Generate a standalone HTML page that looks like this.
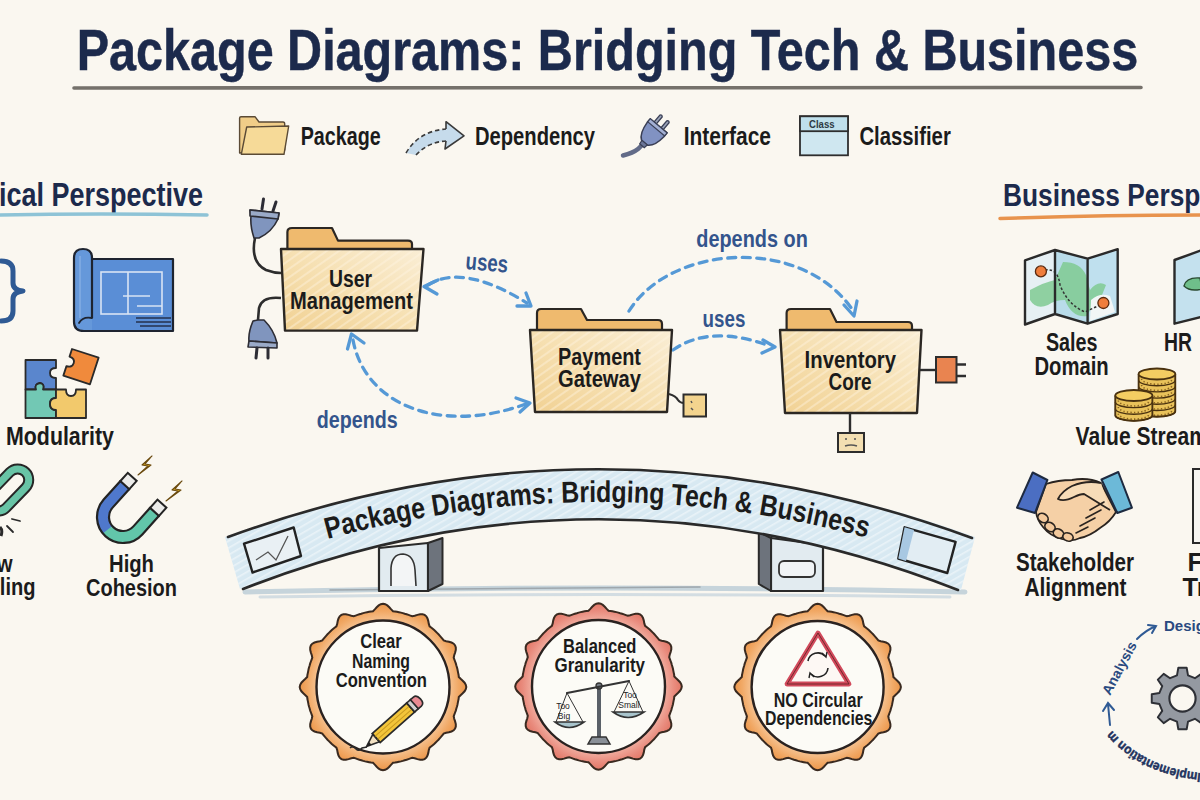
<!DOCTYPE html>
<html><head><meta charset="utf-8"><title>Package Diagrams: Bridging Tech &amp; Business</title>
<style>
html,body{margin:0;padding:0;background:#faf7f0;}
body{width:1200px;height:800px;overflow:hidden;position:relative;font-family:"Liberation Sans",sans-serif;}
svg{position:absolute;left:0;top:0;display:block;}
text{font-family:"Liberation Sans",sans-serif;}
.t{font-weight:bold;fill:#1b1b1b;}
.nav{font-weight:bold;fill:#1c2a4c;}
.blu{font-weight:bold;fill:#33548c;}
.ol{stroke:#2b2723;stroke-linejoin:round;stroke-linecap:round;}
</style></head>
<body>
<svg width="1200" height="800" viewBox="0 0 1200 800">
<defs>
  <linearGradient id="gFold" x1="0" y1="1" x2="1" y2="0">
    <stop offset="0" stop-color="#f1d193"/><stop offset="0.5" stop-color="#f6e0b2"/><stop offset="1" stop-color="#faeed6"/>
  </linearGradient>
  <pattern id="hatch" width="7" height="7" patternUnits="userSpaceOnUse" patternTransform="rotate(-35)">
    <rect width="7" height="2" fill="#fff6e4" opacity="0.4"/>
  </pattern>
  <pattern id="hatchB" width="6" height="6" patternUnits="userSpaceOnUse" patternTransform="rotate(-30)">
    <rect width="6" height="1.6" fill="#ffffff" opacity="0.45"/>
  </pattern>
  <path id="scal" d="M0.0 -83.3 L2.2 -82.8 L4.3 -81.6 L6.3 -79.7 L8.2 -77.6 L10.0 -75.8 L12.0 -75.6 L13.9 -75.2 L15.9 -74.8 L17.9 -74.4 L19.8 -73.9 L21.7 -73.3 L23.6 -72.8 L25.5 -72.1 L27.4 -71.4 L29.3 -70.7 L31.7 -71.2 L34.4 -72.1 L37.1 -72.8 L39.5 -72.8 L41.6 -72.1 L43.3 -70.7 L44.5 -68.5 L45.3 -65.9 L45.8 -63.1 L46.6 -60.7 L48.1 -59.5 L49.7 -58.2 L51.2 -56.9 L52.7 -55.5 L54.1 -54.1 L55.5 -52.7 L56.9 -51.2 L58.2 -49.7 L59.5 -48.1 L60.7 -46.6 L63.1 -45.8 L65.9 -45.3 L68.5 -44.5 L70.7 -43.3 L72.1 -41.6 L72.8 -39.5 L72.8 -37.1 L72.1 -34.4 L71.2 -31.7 L70.7 -29.3 L71.4 -27.4 L72.1 -25.5 L72.8 -23.6 L73.3 -21.7 L73.9 -19.8 L74.4 -17.9 L74.8 -15.9 L75.2 -13.9 L75.6 -12.0 L75.8 -10.0 L77.6 -8.2 L79.7 -6.3 L81.6 -4.3 L82.8 -2.2 L83.3 -0.0 L82.8 2.2 L81.6 4.3 L79.7 6.3 L77.6 8.2 L75.8 10.0 L75.6 12.0 L75.2 13.9 L74.8 15.9 L74.4 17.9 L73.9 19.8 L73.3 21.7 L72.8 23.6 L72.1 25.5 L71.4 27.4 L70.7 29.3 L71.2 31.7 L72.1 34.4 L72.8 37.1 L72.8 39.5 L72.1 41.6 L70.7 43.3 L68.5 44.5 L65.9 45.3 L63.1 45.8 L60.7 46.6 L59.5 48.1 L58.2 49.7 L56.9 51.2 L55.5 52.7 L54.1 54.1 L52.7 55.5 L51.2 56.9 L49.7 58.2 L48.1 59.5 L46.6 60.7 L45.8 63.1 L45.3 65.9 L44.5 68.5 L43.3 70.7 L41.6 72.1 L39.5 72.8 L37.1 72.8 L34.4 72.1 L31.7 71.2 L29.3 70.7 L27.4 71.4 L25.5 72.1 L23.6 72.8 L21.7 73.3 L19.8 73.9 L17.9 74.4 L15.9 74.8 L13.9 75.2 L12.0 75.6 L10.0 75.8 L8.2 77.6 L6.3 79.7 L4.3 81.6 L2.2 82.8 L0.0 83.3 L-2.2 82.8 L-4.3 81.6 L-6.3 79.7 L-8.2 77.6 L-10.0 75.8 L-12.0 75.6 L-13.9 75.2 L-15.9 74.8 L-17.9 74.4 L-19.8 73.9 L-21.7 73.3 L-23.6 72.8 L-25.5 72.1 L-27.4 71.4 L-29.3 70.7 L-31.7 71.2 L-34.4 72.1 L-37.1 72.8 L-39.5 72.8 L-41.6 72.1 L-43.3 70.7 L-44.5 68.5 L-45.3 65.9 L-45.8 63.1 L-46.6 60.7 L-48.1 59.5 L-49.7 58.2 L-51.2 56.9 L-52.7 55.5 L-54.1 54.1 L-55.5 52.7 L-56.9 51.2 L-58.2 49.7 L-59.5 48.1 L-60.7 46.6 L-63.1 45.8 L-65.9 45.3 L-68.5 44.5 L-70.7 43.3 L-72.1 41.7 L-72.8 39.5 L-72.8 37.1 L-72.1 34.4 L-71.2 31.7 L-70.7 29.3 L-71.4 27.4 L-72.1 25.5 L-72.8 23.6 L-73.3 21.7 L-73.9 19.8 L-74.4 17.9 L-74.8 15.9 L-75.2 13.9 L-75.6 12.0 L-75.8 10.0 L-77.6 8.2 L-79.7 6.3 L-81.6 4.3 L-82.8 2.2 L-83.3 0.0 L-82.8 -2.2 L-81.6 -4.3 L-79.7 -6.3 L-77.6 -8.2 L-75.8 -10.0 L-75.6 -12.0 L-75.2 -13.9 L-74.8 -15.9 L-74.4 -17.9 L-73.9 -19.8 L-73.3 -21.7 L-72.8 -23.6 L-72.1 -25.5 L-71.4 -27.4 L-70.7 -29.3 L-71.2 -31.7 L-72.1 -34.4 L-72.8 -37.1 L-72.8 -39.5 L-72.1 -41.7 L-70.7 -43.3 L-68.5 -44.5 L-65.9 -45.3 L-63.1 -45.8 L-60.7 -46.6 L-59.5 -48.1 L-58.2 -49.7 L-56.9 -51.2 L-55.5 -52.7 L-54.1 -54.1 L-52.7 -55.5 L-51.2 -56.9 L-49.7 -58.2 L-48.1 -59.5 L-46.6 -60.7 L-45.8 -63.1 L-45.3 -65.9 L-44.5 -68.5 L-43.3 -70.7 L-41.6 -72.1 L-39.5 -72.8 L-37.1 -72.8 L-34.4 -72.1 L-31.7 -71.2 L-29.3 -70.7 L-27.4 -71.4 L-25.5 -72.1 L-23.6 -72.8 L-21.7 -73.3 L-19.8 -73.9 L-17.9 -74.4 L-15.9 -74.8 L-13.9 -75.2 L-12.0 -75.6 L-10.0 -75.8 L-8.2 -77.6 L-6.3 -79.7 L-4.3 -81.6 L-2.2 -82.8Z"/>
  <radialGradient id="gOr" gradientUnits="userSpaceOnUse" cx="0" cy="0" r="84">
    <stop offset="0.78" stop-color="#f6c494"/><stop offset="0.9" stop-color="#f1a966"/><stop offset="1" stop-color="#ec9548"/>
  </radialGradient>
  <radialGradient id="gRd" gradientUnits="userSpaceOnUse" cx="0" cy="0" r="84">
    <stop offset="0.78" stop-color="#f1b0a2"/><stop offset="0.9" stop-color="#e98c7e"/><stop offset="1" stop-color="#e27564"/>
  </radialGradient>
  <path id="bridgeArc" d="M300 547 Q600 457 900 547"/>
  <linearGradient id="gTab" x1="0" y1="0" x2="1" y2="0">
    <stop offset="0" stop-color="#eeb768"/><stop offset="1" stop-color="#f0c27e"/>
  </linearGradient>
</defs>
<rect width="1200" height="800" fill="#faf7f0"/>

<!-- TITLE -->
<text id="title" class="nav" x="76.7" y="69.5" font-size="57" stroke="#1c2a4c" stroke-width="0.5" textLength="1061.5" lengthAdjust="spacingAndGlyphs">Package Diagrams: Bridging Tech &amp; Business</text>
<path d="M74 88 Q600 86.6 1141 87.5" stroke="#69655f" stroke-width="3.6" fill="none" stroke-linecap="round" opacity="0.92"/>

<!-- LEGEND -->
<g id="legend">
  <path stroke-linejoin="round" d="M239.6 153 L239.6 118 Q239.6 116.7 241 116.7 L255 116.7 L259 122 L283 122 Q284.7 122 284.7 124 L284.7 150 Z" fill="#f0cd88" stroke="#5a4a35" stroke-width="1.4"/>
  <path stroke-linejoin="round" d="M246.7 127 L288.7 126 L284 154.3 L241.3 154.3 Z" fill="#f6da98" stroke="#5a4a35" stroke-width="1.4"/>
  <text class="t" x="300.7" y="145.3" font-size="25" textLength="80" lengthAdjust="spacingAndGlyphs">Package</text>

  <path d="M406 153 Q419 131 446 129 L446 141 Q428 142 416 155 Z" fill="#c6dbeb"/>
  <path d="M406 153 Q419 131 446 129 M416 155 Q428 142 446 141" fill="none" stroke="#3a3a3a" stroke-width="1.6" stroke-dasharray="4.5 3"/>
  <path d="M446 129 L446 121.7 L464 135.8 L445 149 L446 141" fill="#c6dbeb" stroke="#3a3a3a" stroke-width="1.6" stroke-linejoin="round"/>
  <text class="t" x="475" y="145.3" font-size="25" textLength="120" lengthAdjust="spacingAndGlyphs">Dependency</text>

  <path d="M623 155.5 Q633 153 638 149 Q641 146 643 144" stroke="#626b88" stroke-width="4.5" fill="none" stroke-linecap="round"/>
  <g transform="translate(651 135) rotate(40)">
    <path d="M-6 -12 L-6 -21 Q-4.5 -23 -3 -21 L-3 -12 M3 -12 L3 -21 Q4.5 -23 6 -21 L6 -12" fill="#9aa3b8" stroke="#3a3f55" stroke-width="1.3"/>
    <path d="M-11 -12 L11 -12 L11 -7 Q10 6 4 10 L-4 10 Q-10 6 -11 -7 Z" fill="#8192c2" stroke="#3a3f55" stroke-width="1.5" stroke-linejoin="round"/>
    <path d="M-11 -12 L11 -12 L11 -8 L-11 -8 Z" fill="#a3b0d4" stroke="#3a3f55" stroke-width="1.2"/>
    <path d="M-3.5 10 L3.5 10 L3 14 L-3 14 Z" fill="#6c7698" stroke="#3a3f55" stroke-width="1.2"/>
  </g>
  <text class="t" x="683.7" y="145.3" font-size="25" textLength="87.3" lengthAdjust="spacingAndGlyphs">Interface</text>

  <rect x="800" y="116.3" width="48" height="39" fill="#cfe7f0" stroke="#2e2e2e" stroke-width="1.8"/>
  <rect x="800" y="116.3" width="48" height="14.9" fill="#bfe0ec" stroke="#2e2e2e" stroke-width="1.8"/>
  <text x="809" y="127.7" font-size="10.5" font-weight="bold" fill="#2e3a44" textLength="25.6" lengthAdjust="spacingAndGlyphs">Class</text>
  <text class="t" x="859.4" y="145.3" font-size="25" textLength="91.4" lengthAdjust="spacingAndGlyphs">Classifier</text>
</g>

<!-- PERSPECTIVE HEADINGS -->
<text class="nav" x="-1" y="206" font-size="32.5" textLength="204" lengthAdjust="spacingAndGlyphs">ical Perspective</text>
<path d="M-2 215 Q100 213 207 215" stroke="#8ec3d6" stroke-width="3.5" fill="none" stroke-linecap="round"/>
<text class="nav" x="1003" y="206" font-size="32" textLength="272" lengthAdjust="spacingAndGlyphs">Business Perspective</text>
<path d="M1000 218.5 Q1100 215 1205 215" stroke="#e8934d" stroke-width="3.5" fill="none" stroke-linecap="round"/>

<!-- LEFT COLUMN -->
<g id="left">
  <!-- brace -->
  <path d="M1 261 Q13 261 13 271 L13 283 Q13 290 23 291 Q13 292 13 299 L13 311 Q13 321 1 321" stroke="#2f5a94" stroke-width="5" fill="none" stroke-linecap="round" stroke-linejoin="round"/>
  <!-- blueprint -->
  <rect x="86" y="259" width="87" height="72" fill="#5a8ed6" stroke="#1e2430" stroke-width="2.2" stroke-linejoin="round"/>
  <path d="M92 331 L84 331 Q74 331 74 322 L74 258 Q74 249 83 249 Q92 249 92 258 L92 318" fill="#6598da" stroke="#1e2430" stroke-width="2.2" stroke-linejoin="round"/>
  <path d="M92 318 Q83 316 79 323" fill="none" stroke="#1e2430" stroke-width="1.8" stroke-linecap="round"/>
  <path d="M80 256 L80 318" stroke="#86b0e4" stroke-width="2" opacity="0.7"/>
  <g stroke="#e6eef8" stroke-width="1.6" fill="none" opacity="0.9">
    <rect x="101" y="272" width="61" height="42"/>
    <path d="M128 272 L128 314 M123 296 L150 296 M137 306 L162 306"/>
  </g>
  <path d="M136 318 L171 318 M136 322 L171 322 M140 326 L171 326" stroke="#24324d" stroke-width="1.4"/>

  <!-- puzzle -->
  <g stroke="#2a2a2a" stroke-width="1.8" stroke-linejoin="round">
    <path d="M25.5 360 L56 360 L56 368 Q50 368 50 373 Q50 378 56 378 L56 389.5 L43 389.5 Q45 384 40 383 Q34 384 36 389.5 L25.5 389.5 Z" fill="#5a86cd"/>
    <path d="M25.5 389.5 L36 389.5 Q34 384 40 383 Q45 384 43 389.5 L56 389.5 L56 398 Q50 398 50 404 Q50 410 56 410 L56 418 L25.5 418 Z" fill="#72c8b4"/>
    <path d="M56 389.5 L66 389.5 Q66 396 71 396 Q76 396 76 389.5 L86 389.5 L86 418 L56 418 L56 410 Q50 410 50 404 Q50 398 56 398 Z" fill="#f2c96c"/>
    <path d="M0 0 L28 0 L28 28 L0 28 L0 18 Q6 18 6 13 Q6 8 0 8 Z" transform="translate(72 349) rotate(18)" fill="#f08a3c"/>
  </g>
  <text class="t" x="6" y="445.3" font-size="26" textLength="108" lengthAdjust="spacingAndGlyphs">Modularity</text>

  <!-- broken link -->
  <g transform="translate(8 490) rotate(-46)">
    <rect x="-25" y="-11" width="50" height="22" rx="11" fill="none" stroke="#262626" stroke-width="11"/>
    <rect x="-25" y="-11" width="50" height="22" rx="11" fill="none" stroke="#68c4a6" stroke-width="7"/>
  </g>
  <path d="M12 519 L20 521 M7 526 L13 532" stroke="#2a2a2a" stroke-width="1.8" stroke-linecap="round"/>
  <path d="M0 527 Q3 530 1 536" stroke="#2a2a2a" stroke-width="3" fill="none"/>
  <text class="t" x="12.5" y="572" font-size="24" text-anchor="end" textLength="40" lengthAdjust="spacingAndGlyphs">Low</text>
  <text class="t" x="35.5" y="594.5" font-size="24" text-anchor="end" textLength="87" lengthAdjust="spacingAndGlyphs">Coupling</text>

  <!-- magnet -->
  <g transform="translate(123 517) rotate(42)">
    <path d="M-26 -25 L-26 0 A26 26 0 0 0 26 0 L26 -25 L14 -25 L14 0 A14 14 0 0 1 -14 0 L-14 -25 Z" fill="#62c6aa"/>
    <path d="M-26 -25 L-26 0 A26 26 0 0 0 -4 25.7 L-2 14 A14 14 0 0 1 -14 0 L-14 -25 Z" fill="#4f78cc"/>
    <path d="M-26 -25 L-26 0 A26 26 0 0 0 26 0 L26 -25 L14 -25 L14 0 A14 14 0 0 1 -14 0 L-14 -25 Z" fill="none" stroke="#232323" stroke-width="2.2" stroke-linejoin="round"/>
    <rect x="-26" y="-36" width="12" height="11" fill="#ececea" stroke="#232323" stroke-width="2"/>
    <rect x="14" y="-36" width="12" height="11" fill="#ececea" stroke="#232323" stroke-width="2"/>
  </g>
  <path d="M152 456 L142 465 L148 466 L138 475 L151 465 L145 464 Z" fill="#e8b820" stroke="#6a4a10" stroke-width="1.1" stroke-linejoin="round"/>
  <path d="M182 481 L172 490 L178 491 L166 501 L181 490 L175 489 Z" fill="#e8b820" stroke="#6a4a10" stroke-width="1.1" stroke-linejoin="round"/>
  <text class="t" x="131.5" y="571.8" font-size="24" text-anchor="middle" textLength="45" lengthAdjust="spacingAndGlyphs">High</text>
  <text class="t" x="86" y="595.5" font-size="24" textLength="91" lengthAdjust="spacingAndGlyphs">Cohesion</text>
</g>

<!-- CENTER DIAGRAM -->
<g id="center">
  <!-- arrows -->
  <g stroke="#5599d6" stroke-width="3.3" fill="none" stroke-linecap="round" stroke-linejoin="round">
    <path d="M428 285 Q462.5 263 527 303" stroke-dasharray="8 6.5"/>
    <path d="M353 340 C365 405 440 435 526 404" stroke-dasharray="8 6.5"/>
    <path d="M629 311 C670 245 800 235 852 309" stroke-dasharray="8 6.5"/>
    <path d="M673 350 Q710 324 770 346" stroke-dasharray="8 6.5"/>
    <!-- heads -->
    <path d="M438 280 L424 286.5 L437 294"/>
    <path d="M517 306 L531 306 L526 293"/>
    <path d="M347.5 349 L351.5 334 L364 343"/>
    <path d="M520 412 L530 403 L516 398"/>
    <path d="M844 305 L854 316 L857 301"/>
    <path d="M763 340 L775 347 L762 353"/>
  </g>
  <text class="blu" x="465.5" y="270.8" font-size="24" textLength="42.5" lengthAdjust="spacingAndGlyphs" transform="rotate(5 487 265)">uses</text>
  <text class="blu" x="316.8" y="427.6" font-size="24" textLength="81" lengthAdjust="spacingAndGlyphs">depends</text>
  <text class="blu" x="696.3" y="247.3" font-size="24" textLength="111.5" lengthAdjust="spacingAndGlyphs">depends on</text>
  <text class="blu" x="702.6" y="327.4" font-size="24" textLength="42.8" lengthAdjust="spacingAndGlyphs">uses</text>

  <!-- folder: User Management -->
  <path class="ol" d="M287.4 251 L287.4 232 Q287.4 228 292 228 L332 228 L338 240.6 L408 240.6 Q412 240.6 412 244 L412 251 Z" fill="#efba6e" stroke-width="2.2"/>
  <path d="M281 249 L423.5 249 L417 330.6 L285 330.6 Z" fill="url(#gFold)"/>
  <path d="M281 249 L423.5 249 L417 330.6 L285 330.6 Z" fill="url(#hatch)"/>
  <path class="ol" d="M281 249 L423.5 249 L417 330.6 L285 330.6 Z" fill="none" stroke-width="2.4"/>
  <text class="t" x="329" y="286.7" font-size="23.8" textLength="43" lengthAdjust="spacingAndGlyphs">User</text>
  <text class="t" x="290" y="309" font-size="23.8" textLength="123" lengthAdjust="spacingAndGlyphs">Management</text>
  <!-- plugs -->
  <path d="M255 238 Q250 262 266 270 Q274 273 281 273" stroke="#2d2d2d" stroke-width="2.6" fill="none"/>
  <path d="M281 298 Q262 296 259 308 L258 320" stroke="#2d2d2d" stroke-width="2.6" fill="none"/>
  <g stroke="#2d2d35" stroke-width="1.6" stroke-linejoin="round">
    <path d="M262 209 L263.5 199 M273 211 L276 202" stroke-width="3" stroke-linecap="round"/>
    <path d="M250 210 L279 213 L278 219 Q272 232 259 238 L254 238 Q250 226 251 216 Z" fill="#8095be"/>
    <path d="M250 210 L279 213 L278 219 L250 216 Z" fill="#9aaac8"/>
    <path d="M258 320 L253 321 Q248 333 249 341 L277 343 Q274 330 264 320 Z" fill="#8095be"/>
    <path d="M249 341 L277 343 L277 348 L248 347 Z" fill="#9aaac8"/>
    <path d="M257 348 L256 358 M268 348 L268 358" stroke-width="3" stroke-linecap="round"/>
  </g>

  <!-- folder: Payment Gateway -->
  <path class="ol" d="M537 332 L537 313 Q537 309 541 309 L581 309 L587 320 L658 320 Q662 320 662 324 L662 332 Z" fill="#efba6e" stroke-width="2.2"/>
  <path d="M530 330 L672 330 L667 412 L535 412 Z" fill="url(#gFold)"/>
  <path d="M530 330 L672 330 L667 412 L535 412 Z" fill="url(#hatch)"/>
  <path class="ol" d="M530 330 L672 330 L667 412 L535 412 Z" fill="none" stroke-width="2.4"/>
  <text class="t" x="558" y="365" font-size="23.8" textLength="83" lengthAdjust="spacingAndGlyphs">Payment</text>
  <text class="t" x="558" y="387" font-size="23.8" textLength="83" lengthAdjust="spacingAndGlyphs">Gateway</text>
  <path d="M669 394 Q676 396 678 400 Q680 403 684 403" stroke="#2d2d2d" stroke-width="2.2" fill="none"/>
  <rect x="683.5" y="394.5" width="22.5" height="22" fill="#f3d48e" stroke="#2d2d2d" stroke-width="2"/>
  <path d="M691 401 L692 403 M691 408 L693 410" stroke="#555" stroke-width="1.5"/>

  <!-- folder: Inventory Core -->
  <path class="ol" d="M786.6 332 L786.6 313 Q786.6 309 791 309 L830 309 L836.5 322 L908 322 Q912 322 912 326 L912 332 Z" fill="#efba6e" stroke-width="2.2"/>
  <path d="M780 330 L921.5 330 L917 413 L785 413 Z" fill="url(#gFold)"/>
  <path d="M780 330 L921.5 330 L917 413 L785 413 Z" fill="url(#hatch)"/>
  <path class="ol" d="M780 330 L921.5 330 L917 413 L785 413 Z" fill="none" stroke-width="2.4"/>
  <text class="t" x="804.6" y="367.6" font-size="23.8" textLength="91.4" lengthAdjust="spacingAndGlyphs">Inventory</text>
  <text class="t" x="828.5" y="390" font-size="23.8" textLength="43.1" lengthAdjust="spacingAndGlyphs">Core</text>
  <path d="M920 370 L936 370" stroke="#2d2d2d" stroke-width="2.4"/>
  <rect x="936" y="357" width="20.5" height="25.5" fill="#e98450" stroke="#2d2d2d" stroke-width="2"/>
  <path d="M956 364.5 L966 364.5 M956 376 L966 376" stroke="#2d2d2d" stroke-width="2.4"/>
  <path d="M850 413 L850 433" stroke="#2d2d2d" stroke-width="2.4"/>
  <rect x="838" y="433" width="26" height="19" fill="#f3dfb2" stroke="#2d2d2d" stroke-width="2"/>
  <path d="M845 439 L847 439 M854 439 L856 439 M845 446 Q851 444 857 446" stroke="#555" stroke-width="1.5" fill="none"/>
</g>

<!-- BRIDGE -->
<g id="bridge">
  <!-- ground shadow -->
  <g stroke-linecap="round" fill="none">
    <path d="M245 592 Q600 584 965 592" stroke="#b9cbd6" stroke-width="5" opacity="0.8"/>
    <path d="M260 597 Q600 592 950 597" stroke="#c9d6de" stroke-width="3" opacity="0.8"/>
    <path d="M330 590 L700 587" stroke="#8d949a" stroke-width="1.5" opacity="0.7"/>
  </g>
  <!-- piers -->
  <path d="M379 548 L428 543 L428 591 L379 591 Z" fill="#e2ebf0" stroke="#2a2a2a" stroke-width="2.2" stroke-linejoin="round"/>
  <path d="M428 543 L442.5 538 L442.5 584 L428 591 Z" fill="#6d737c" stroke="#2a2a2a" stroke-width="2" stroke-linejoin="round"/>
  <path d="M391 586 L391 568 Q392 554 403 554 Q414 555 415 570 L416 586" fill="#f3f5f6" stroke="#333" stroke-width="1.6"/>
  <path d="M771 538 L823 545 L823 591 L771 591 Z" fill="#e2ebf0" stroke="#2a2a2a" stroke-width="2.2" stroke-linejoin="round"/>
  <path d="M758.8 532 L771 538 L771 591 L758.8 584 Z" fill="#6d737c" stroke="#2a2a2a" stroke-width="2" stroke-linejoin="round"/>
  <rect x="779" y="561" width="36" height="16" rx="5" fill="#f1f4f6" stroke="#333" stroke-width="1.8"/>
  <!-- deck -->
  <path d="M225 537 Q600 401 975 537 L961 590 Q600 449 240 589 Z" fill="#d8e9f2"/>
  <path d="M225 537 Q600 401 975 537 L961 590 Q600 449 240 589 Z" fill="url(#hatchB)"/>
  <path d="M228 537 Q600 401 972 538" stroke="#2a2a2a" stroke-width="2.6" fill="none" stroke-linecap="round"/>
  <path d="M243 589 Q600 449 958 590" stroke="#2a2a2a" stroke-width="2.6" fill="none" stroke-linecap="round"/>
  <!-- deck end boxes -->
  <path d="M244 543.7 L293.7 527.5 L301 556 L252.5 572.5 Z" fill="#e9f0f4" stroke="#222" stroke-width="2.4" stroke-linejoin="round"/>
  <path d="M256 560 L268 552 L276 560 L288 536" stroke="#555" stroke-width="1.3" fill="none"/>
  <path d="M904.6 527.3 L955.6 541.9 L947.3 573 L898.3 558.5 Z" fill="#e2edf3" stroke="#222" stroke-width="2.4" stroke-linejoin="round"/>
  <path d="M904.6 527.3 L914 530 L906 561 L898.3 558.5 Z" fill="#a8c8e2"/>
  <!-- curved text -->
  <text font-size="30" font-weight="bold" fill="#1b1b1b"><textPath href="#bridgeArc" startOffset="28.6" textLength="546" lengthAdjust="spacingAndGlyphs">Package Diagrams: Bridging Tech &amp; Business</textPath></text>
</g>

<!-- BADGES -->
<g id="badges">
  <g transform="translate(383 687)">
    <use href="#scal" fill="url(#gOr)" stroke="#3a2a20" stroke-width="2"/>
    <circle r="66.5" fill="#fcfbf6" stroke="#2a2220" stroke-width="2.4"/>
  </g>
  <g transform="translate(598.5 686.5)">
    <use href="#scal" fill="url(#gRd)" stroke="#3a2a20" stroke-width="2"/>
    <circle r="66.5" fill="#fcfbf6" stroke="#2a2220" stroke-width="2.4"/>
  </g>
  <g transform="translate(817.6 687)">
    <use href="#scal" fill="url(#gOr)" stroke="#3a2a20" stroke-width="2"/>
    <circle r="66" fill="#fcfbf6" stroke="#2a2220" stroke-width="2.4"/>
  </g>
  <!-- badge 1 text + pencil -->
  <text class="t" x="381" y="648.4" font-size="19.8" text-anchor="middle" textLength="41.6" lengthAdjust="spacingAndGlyphs">Clear</text>
  <text class="t" x="381" y="668" font-size="19.8" text-anchor="middle" textLength="58" lengthAdjust="spacingAndGlyphs">Naming</text>
  <text class="t" x="381.3" y="687" font-size="19.8" text-anchor="middle" textLength="91.3" lengthAdjust="spacingAndGlyphs">Convention</text>
  <g transform="translate(366.5 746.6) rotate(-41.5)">
    <path d="M0 0 L13 -5 L13 5 Z" fill="#f3e2c4" stroke="#2a2a2a" stroke-width="1.6" stroke-linejoin="round"/>
    <path d="M0 0 L5 -2 L5 2 Z" fill="#222"/>
    <rect x="13" y="-6" width="46" height="12" fill="#f3c53a" stroke="#2a2a2a" stroke-width="1.8"/>
    <path d="M13 -2 L59 -2 M13 2 L59 2" stroke="#c99a20" stroke-width="1"/>
    <rect x="59" y="-6" width="5" height="12" fill="#d0d0d0" stroke="#2a2a2a" stroke-width="1.6"/>
    <path d="M64 -6 L68 -6 Q72 -6 72 0 Q72 6 68 6 L64 6 Z" fill="#e98a92" stroke="#2a2a2a" stroke-width="1.6"/>
  </g>
  <path d="M350 748 Q353 745 356 749 Q359 752 362 748 L367 747" stroke="#2a2a2a" stroke-width="1.5" fill="none"/>
  <!-- badge 2 text + scale -->
  <text class="t" x="599.7" y="652.8" font-size="19.8" text-anchor="middle" textLength="73.5" lengthAdjust="spacingAndGlyphs">Balanced</text>
  <text class="t" x="599.8" y="672.2" font-size="19.8" text-anchor="middle" textLength="90.4" lengthAdjust="spacingAndGlyphs">Granularity</text>
  <g stroke="#333" fill="none" stroke-linecap="round">
    <path d="M599 689 L599 737" stroke="#5a6068" stroke-width="4"/>
    <circle cx="599" cy="686" r="3" fill="#7a8088" stroke-width="1.3"/>
    <path d="M567 693 L629 681" stroke-width="2.2"/>
    <path d="M567 693 L556 722 M567 693 L583 722 M629 681 L614 712 M629 681 L643 712" stroke-width="1"/>
    <path d="M555 722 Q569 733 584 722 Z" fill="#a8c4cc" stroke-width="1.6"/>
    <path d="M613 712 Q628 723 644 712 Z" fill="#a8c4cc" stroke-width="1.6"/>
    <path d="M588 744 L610 744 L606 737 L592 737 Z" fill="#8a9098" stroke-width="1.5"/>
  </g>
  <text x="563" y="709" font-size="8.5" fill="#222" text-anchor="middle">Too</text>
  <text x="564" y="719" font-size="8.5" fill="#222" text-anchor="middle">Big</text>
  <text x="630" y="698" font-size="8.5" fill="#222" text-anchor="middle">Too</text>
  <text x="629" y="708" font-size="8.5" fill="#222" text-anchor="middle">Small</text>
  <!-- badge 3 -->
  <path d="M818 633 L849 684 L787 684 Z" fill="#fdf8f4" stroke="#d24a5c" stroke-width="4.8" stroke-linejoin="round"/>
  <path d="M818 633 L849 684 L787 684 Z" fill="none" stroke="#5a2020" stroke-width="0.8" stroke-linejoin="round"/>
  <path d="M825 656 A10 10 0 0 0 808 661 M811 674 A10 10 0 0 0 828 668" stroke="#222" stroke-width="1.6" fill="none"/>
  <path d="M822 653 L826 657 L827 652 M814 677 L810 673 L809 678" stroke="#222" stroke-width="1.4" fill="none"/>
  <text class="t" x="818.2" y="706.7" font-size="19.8" text-anchor="middle" textLength="89" lengthAdjust="spacingAndGlyphs">NO Circular</text>
  <text class="t" x="818.7" y="725.2" font-size="19.8" text-anchor="middle" textLength="107.4" lengthAdjust="spacingAndGlyphs">Dependencies</text>
</g>

<!-- RIGHT COLUMN -->
<g id="right">
  <!-- sales map -->
  <g id="map">
    <path d="M1025 260.3 L1055 250 L1055 314 L1025 324.5 Z" fill="#e6f0f4"/>
    <path d="M1055 250 L1087.6 258.7 L1087.6 323.7 L1055 314 Z" fill="#b9dcea"/>
    <path d="M1087.6 258.7 L1117.7 249.2 L1117.7 314 L1087.6 323.7 Z" fill="#bfe0ee"/>
    <path d="M1030 290 Q1045 282 1055 280 L1063 262 Q1080 262 1086 275 L1090 290 Q1098 280 1106 285 L1100 300 Q1092 305 1087 316 Q1072 318 1065 300 Q1055 300 1048 305 Q1036 310 1030 300 Z" fill="#7fca92" opacity="0.85"/>
    <path d="M1091 300 Q1100 292 1110 296 L1115 312 L1090 321 Z" fill="#f2f6f6"/>
    <path d="M1045 270 Q1058 268 1060 285 Q1068 305 1085 312 L1100 305" stroke="#333" stroke-width="1.5" stroke-dasharray="2.5 2" fill="none"/>
    <circle cx="1040.9" cy="271.4" r="5.5" fill="#ef7d3c" stroke="#5a2a10" stroke-width="1.3"/>
    <circle cx="1103.4" cy="303" r="5.5" fill="#ef7d3c" stroke="#5a2a10" stroke-width="1.3"/>
    <path d="M1025 260.3 L1055 250 L1087.6 258.7 L1117.7 249.2 L1117.7 314 L1087.6 323.7 L1055 314 L1025 324.5 Z M1055 250 L1055 314 M1087.6 258.7 L1087.6 323.7" fill="none" stroke="#2a2a2a" stroke-width="2.4" stroke-linejoin="round"/>
  </g>
  <!-- HR map (partial) -->
  <path d="M1174.5 260 L1205 249 L1205 316 L1174.5 323.7 Z" fill="#c4e1ee" stroke="#2a2a2a" stroke-width="2.4" stroke-linejoin="round"/>
  <path d="M1184 286 Q1186 277 1200 278 L1202 289 Q1190 292 1184 286 Z" fill="#6fbf8a" stroke="#2a4a30" stroke-width="1.4"/>
  <text class="t" x="1071.7" y="351.3" font-size="25.5" text-anchor="middle" textLength="51.6" lengthAdjust="spacingAndGlyphs">Sales</text>
  <text class="t" x="1071.6" y="375.3" font-size="25.5" text-anchor="middle" textLength="74.3" lengthAdjust="spacingAndGlyphs">Domain</text>
  <text class="t" x="1164" y="351.3" font-size="25.5" textLength="28" lengthAdjust="spacingAndGlyphs">HR</text>
  <!-- coins -->
  <g stroke="#4a3210">
    <path d="M1138.6 374 L1138.6 411.2 A18.350000000000023 5.5 0 0 0 1175.3 411.2 L1175.3 374 Z" fill="#e9c25a"/>
    <path d="M1138.6 380.2 A18.350000000000023 5.5 0 0 0 1175.3 380.2" fill="none" stroke-width="1.4"/>
    <path d="M1138.6 386.4 A18.350000000000023 5.5 0 0 0 1175.3 386.4" fill="none" stroke-width="1.4"/>
    <path d="M1138.6 392.6 A18.350000000000023 5.5 0 0 0 1175.3 392.6" fill="none" stroke-width="1.4"/>
    <path d="M1138.6 398.8 A18.350000000000023 5.5 0 0 0 1175.3 398.8" fill="none" stroke-width="1.4"/>
    <path d="M1138.6 405.0 A18.350000000000023 5.5 0 0 0 1175.3 405.0" fill="none" stroke-width="1.4"/>
    <path d="M1138.6 411.2 A18.350000000000023 5.5 0 0 0 1175.3 411.2" fill="none" stroke-width="1.4"/>
    <path d="M1141.6 378.75 A15.350000000000023 5.5 0 0 0 1172.3 378.75" fill="none" stroke="#8a6420" stroke-width="1.6" stroke-dasharray="1.3 2.2" />
    <path d="M1141.6 384.95 A15.350000000000023 5.5 0 0 0 1172.3 384.95" fill="none" stroke="#8a6420" stroke-width="1.6" stroke-dasharray="1.3 2.2" />
    <path d="M1141.6 391.15 A15.350000000000023 5.5 0 0 0 1172.3 391.15" fill="none" stroke="#8a6420" stroke-width="1.6" stroke-dasharray="1.3 2.2" />
    <path d="M1141.6 397.35 A15.350000000000023 5.5 0 0 0 1172.3 397.35" fill="none" stroke="#8a6420" stroke-width="1.6" stroke-dasharray="1.3 2.2" />
    <path d="M1141.6 403.55 A15.350000000000023 5.5 0 0 0 1172.3 403.55" fill="none" stroke="#8a6420" stroke-width="1.6" stroke-dasharray="1.3 2.2" />
    <path d="M1141.6 409.75 A15.350000000000023 5.5 0 0 0 1172.3 409.75" fill="none" stroke="#8a6420" stroke-width="1.6" stroke-dasharray="1.3 2.2" />
    <path d="M1138.6 374 L1138.6 411.2 A18.350000000000023 5.5 0 0 0 1175.3 411.2 L1175.3 374" fill="none" stroke-width="1.8"/>
    <ellipse cx="1156.9499999999998" cy="374" rx="18.350000000000023" ry="5.5" fill="#f4cd62" stroke-width="1.8"/>
    <path d="M1115.3 395.5 L1115.3 415.3 A18.550000000000068 5.5 0 0 0 1152.4 415.3 L1152.4 395.5 Z" fill="#e9c25a"/>
    <path d="M1115.3 402.1 A18.550000000000068 5.5 0 0 0 1152.4 402.1" fill="none" stroke-width="1.4"/>
    <path d="M1115.3 408.7 A18.550000000000068 5.5 0 0 0 1152.4 408.7" fill="none" stroke-width="1.4"/>
    <path d="M1115.3 415.3 A18.550000000000068 5.5 0 0 0 1152.4 415.3" fill="none" stroke-width="1.4"/>
    <path d="M1118.3 400.45 A15.550000000000068 5.5 0 0 0 1149.4 400.45" fill="none" stroke="#8a6420" stroke-width="1.6" stroke-dasharray="1.3 2.2" />
    <path d="M1118.3 407.05 A15.550000000000068 5.5 0 0 0 1149.4 407.05" fill="none" stroke="#8a6420" stroke-width="1.6" stroke-dasharray="1.3 2.2" />
    <path d="M1118.3 413.65 A15.550000000000068 5.5 0 0 0 1149.4 413.65" fill="none" stroke="#8a6420" stroke-width="1.6" stroke-dasharray="1.3 2.2" />
    <path d="M1115.3 395.5 L1115.3 415.3 A18.550000000000068 5.5 0 0 0 1152.4 415.3 L1152.4 395.5" fill="none" stroke-width="1.8"/>
    <ellipse cx="1133.85" cy="395.5" rx="18.550000000000068" ry="5.5" fill="#f4cd62" stroke-width="1.8"/>
  </g>
  <text class="t" x="1075.6" y="445" font-size="25.5" textLength="144" lengthAdjust="spacingAndGlyphs">Value Streams</text>
  <!-- handshake -->
  <path d="M1046 484 Q1058 480 1072 480 Q1088 477 1101 483 L1116 512 Q1110 522 1100 528 Q1090 536 1080 538 Q1072 542 1062 539 Q1050 536 1043 527 Q1037 520 1036 512 Z" fill="#f5d0a6" stroke="#2a2420" stroke-width="1.8" stroke-linejoin="round"/>
  <path d="M1101 483 Q1086 480 1072 486 Q1062 491 1058 499 Q1064 502 1074 497 Q1080 494 1084 494 L1110 510" fill="#f7dcb8" stroke="#2a2420" stroke-width="1.8" stroke-linejoin="round"/>
  <g fill="#f3c99c" stroke="#2a2420" stroke-width="1.7">
    <ellipse cx="1043" cy="518" rx="5.5" ry="4.3" transform="rotate(35 1043 518)"/>
    <ellipse cx="1050" cy="527" rx="5.5" ry="4.3" transform="rotate(35 1050 527)"/>
    <ellipse cx="1058.5" cy="533.5" rx="5.5" ry="4.3" transform="rotate(30 1058.5 533.5)"/>
    <ellipse cx="1068" cy="537" rx="5.3" ry="4" transform="rotate(20 1068 537)"/>
  </g>
  <path d="M1090 510 L1104 502 M1086 518 L1101 510 M1080 526 L1095 518 M1076 533 L1088 527" stroke="#2a2420" stroke-width="1.6" fill="none" stroke-linecap="round"/>
  <path d="M1032.7 472.5 L1047.4 480 L1035 513 L1017 507.7 Z" fill="#4b6ec2" stroke="#1e2a40" stroke-width="2" stroke-linejoin="round"/>
  <path d="M1101.5 479.5 L1118.3 472 L1131.9 507.7 L1117.3 513 Z" fill="#6cb9d8" stroke="#1e2a40" stroke-width="2" stroke-linejoin="round"/>
  <text class="t" x="1016" y="571.3" font-size="25.5" textLength="118" lengthAdjust="spacingAndGlyphs">Stakeholder</text>
  <text class="t" x="1024.4" y="595.7" font-size="25.5" textLength="102.1" lengthAdjust="spacingAndGlyphs">Alignment</text>
  <!-- right edge -->
  <path d="M1193 469 L1210 469 L1210 543 L1193 543 Z" fill="#f7f6f2" stroke="#2a2a2a" stroke-width="2"/>
  <text class="t" x="1187.5" y="571.3" font-size="25.5">Fe</text>
  <text class="t" x="1182.5" y="595.7" font-size="25.5">Tr</text>
  <!-- cycle -->
  <path id="cycArc" d="M1215 774 Q1145 772 1109 727" fill="none"/>
  <text font-size="13" font-weight="bold" fill="#22335e" stroke="#22335e" stroke-width="0.5"><textPath href="#cycArc" startOffset="14" textLength="112" lengthAdjust="spacingAndGlyphs">Implementation mm</textPath></text>
  <path d="M1110 725 L1108 704 M1103 711 L1108 703 L1114 710" stroke="#2f5a94" stroke-width="2" fill="none" stroke-linecap="round"/>
  <path d="M1137 639 Q1146 630 1156 626 M1148 625 L1156 626 L1152 633" stroke="#2f5a94" stroke-width="2" fill="none" stroke-linecap="round"/>
  <text x="0" y="0" font-size="14" font-weight="bold" fill="#2a4a80" transform="translate(1110 696) rotate(-62)" textLength="58" lengthAdjust="spacingAndGlyphs">Analysis</text>
  <text x="1164" y="631" font-size="15" font-weight="bold" fill="#2a4a80">Design</text>
  <g transform="translate(1182.5 698.5) scale(0.97)">
    <path d="M-5.7 -23.8 L-4.3 -31.7 L4.3 -31.7 L5.7 -23.8 L12.8 -20.9 L19.4 -25.4 L25.4 -19.4 L20.9 -12.8 L23.8 -5.7 L31.7 -4.3 L31.7 4.3 L23.8 5.7 L20.9 12.8 L25.4 19.4 L19.4 25.4 L12.8 20.9 L5.7 23.8 L4.3 31.7 L-4.3 31.7 L-5.7 23.8 L-12.8 20.9 L-19.4 25.4 L-25.4 19.4 L-20.9 12.8 L-23.8 5.7 L-31.7 4.3 L-31.7 -4.3 L-23.8 -5.7 L-20.9 -12.8 L-25.4 -19.4 L-19.4 -25.4 L-12.8 -20.9Z" fill="#9499a1" stroke="#2e3036" stroke-width="2" stroke-linejoin="round"/>
    <circle r="13.5" fill="#faf7f0" stroke="#2e3036" stroke-width="2.2"/>
  </g>
</g>

</svg>
</body></html>
